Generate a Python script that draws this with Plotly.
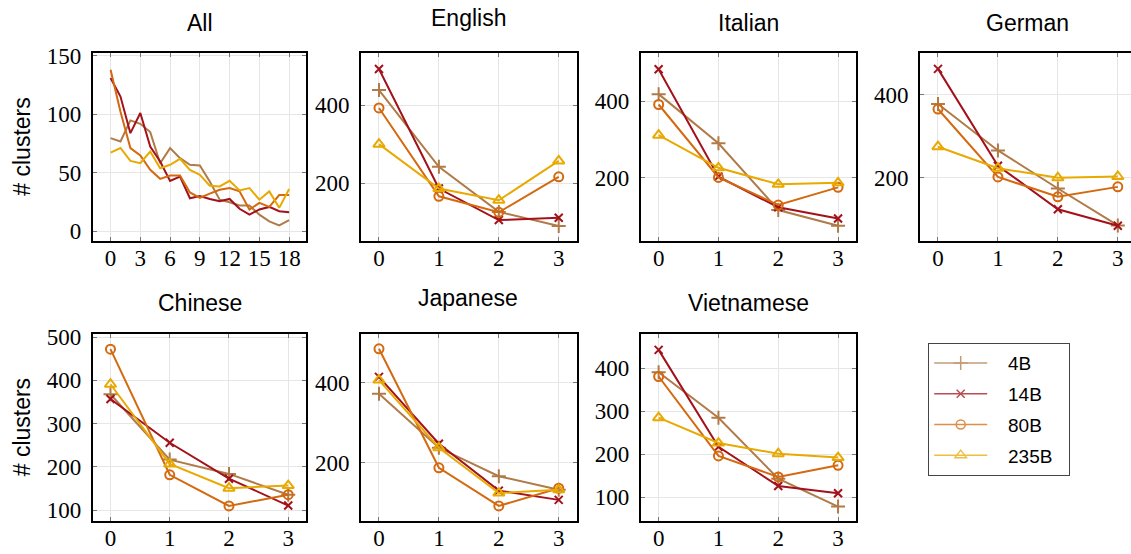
import plotly.graph_objects as go

W, H = 1131, 554

models = ["4B", "14B", "80B", "235B"]
colors = {"4B": "#B07B48", "14B": "#A3121B", "80B": "#D4690F", "235B": "#E8A900"}
symbols = {"4B": "cross-thin-open", "14B": "x-thin-open", "80B": "circle-open", "235B": "triangle-up-open"}
msize = {"4B": 10, "14B": 8, "80B": 9, "235B": 10}

steps_all = list(range(19))
steps_lang = [0, 1, 2, 3]

all_vals = {
    "4B":   [79.4, 76.6, 94.6, 91.7, 84.6, 58, 70.9, 62.3, 56.6, 56, 42.4, 26.8, 24.6, 21.8, 21.8, 14, 8.2, 4.8, 9.3],
    "14B":  [130.9, 115, 83.7, 100.9, 72.3, 59.4, 42.9, 46.6, 28, 30, 27.4, 25.4, 27.4, 19, 14, 18.4, 20.6, 16.9, 16.1],
    "80B":  [138, 102, 70.9, 64.6, 52.3, 44.6, 47.4, 47.4, 33, 28.4, 31.9, 35.3, 36.7, 33.9, 18.4, 24, 20.6, 30.8, 30.8],
    "235B": [67, 71, 60, 58, 68, 53.7, 56.6, 61.7, 52.3, 48, 38.7, 38.1, 42.9, 34.7, 36.7, 26.8, 33.9, 19.8, 35.9],
}
english = {"4B": [439, 242, 126, 90], "14B": [493, 186, 105, 111], "80B": [393, 166, 125, 216], "235B": [300, 186, 156, 257]}
italian = {"4B": [418, 290, 116, 75], "14B": [483, 203, 123, 94], "80B": [391, 201, 129, 175], "235B": [311, 226, 183, 187]}
german = {"4B": [378, 266, 174, 85], "14B": [463, 229, 124, 84], "80B": [366, 202, 154, 178], "235B": [275, 223, 200, 203]}
chinese = {"4B": [368, 217, 184, 136], "14B": [357, 256, 173, 111], "80B": [472, 182, 110, 136], "235B": [391, 207, 151, 157]}
japanese = {"4B": [372, 237, 166, 132], "14B": [414, 247, 130, 107], "80B": [484, 187, 92, 136], "235B": [406, 237, 124, 132]}
vietnamese = {"4B": [391, 285, 143, 78], "14B": [443, 217, 126, 109], "80B": [381, 196, 147, 174], "235B": [285, 226, 201, 192]}

panel_titles = ["All", "English", "Italian", "German", "Chinese", "Japanese", "Vietnamese"]
panel_data = [all_vals, english, italian, german, chinese, japanese, vietnamese]

# layout (pixel boxes)
cols_px = [(92.7, 306), (361, 576.7), (640.7, 856), (920, 1131)]
rows_px = [(52.7, 240.7), (334, 520.7)]
xranges = [[-1.8, 19.7], [-0.3, 3.3], [-0.3, 3.3], [-0.3, 3.22], [-0.3, 3.3], [-0.3, 3.3], [-0.3, 3.3]]
yranges = [[-8.3, 152.5], [52, 535], [36, 526], [48, 502], [76, 507], [55, 521], [45, 480]]
xdt = [3, 1, 1, 1, 1, 1, 1]
ydt = [50, 200, 200, 200, 100, 200, 100]
title_pos = [(200, 22.5), (468.3, 17.5), (748.3, 22.5), (1027.5, 22.5), (200, 302.5), (468.3, 297.5), (748.3, 302.5)]

fig = go.Figure()
layout = dict(
    width=W, height=H, margin=dict(l=0, r=0, t=0, b=0, autoexpand=False),
    paper_bgcolor="white", plot_bgcolor="white", showlegend=True,
)
annotations = []
tick_font = dict(family="Liberation Serif", size=23, color="black")

for i, (title, data) in enumerate(zip(panel_titles, panel_data)):
    r, c = (0, i) if i < 4 else (1, i - 4)
    xs = steps_all if i == 0 else steps_lang
    ax = "" if i == 0 else str(i + 1)
    for m in models:
        tr = dict(
            x=xs, y=data[m], xaxis="x" + ax, yaxis="y" + ax,
            line=dict(color=colors[m], width=2), showlegend=False, name=m,
        )
        if i == 0:
            tr["mode"] = "lines"
        else:
            tr["mode"] = "lines+markers"
            tr["marker"] = dict(symbol=symbols[m], size=msize[m], color=colors[m],
                                line=dict(color=colors[m], width=2))
        fig.add_trace(go.Scatter(**tr))
    x0, x1 = cols_px[c]
    y0, y1 = rows_px[r]
    common = dict(showline=True, linecolor="black", linewidth=1.6, mirror="ticks",
                  ticks="inside", ticklen=4, tickwidth=1, tickcolor="#777",
                  showgrid=True, gridcolor="#e6e6e6", gridwidth=1, zeroline=False,
                  tickfont=tick_font, automargin=False)
    layout["xaxis" + ax] = dict(domain=[x0 / W, x1 / W], range=xranges[i], dtick=xdt[i], tick0=0,
                                anchor="y" + ax, ticklabelstandoff=-4, **common)
    layout["yaxis" + ax] = dict(domain=[1 - y1 / H, 1 - y0 / H], range=yranges[i], dtick=ydt[i], tick0=0,
                                anchor="x" + ax, ticklabelstandoff=5, **common)
    if i == 3:
        layout["yaxis" + ax]["mirror"] = False
    tx, ty = title_pos[i]
    annotations.append(dict(text=title, x=tx / W, y=1 - ty / H, xref="paper", yref="paper",
                            xanchor="center", yanchor="middle", showarrow=False,
                            font=dict(family="Liberation Sans", size=23, color="black")))

for yc in [146.7, 427.3]:
    annotations.append(dict(text="# clusters", x=22 / W, y=1 - yc / H, xref="paper", yref="paper",
                            xanchor="center", yanchor="middle", textangle=-90, showarrow=False,
                            font=dict(family="Liberation Sans", size=23, color="black")))

# legend entries
for k, m in enumerate(models):
    fig.add_trace(go.Scatter(
        x=[None], y=[None], mode="lines+markers", name="\u00a0\u00a0\u00a0" + m + "\u00a0\u00a0",
        legendgroup=m, showlegend=True, opacity=0.75, line=dict(color=colors[m], width=1.5),
        marker=dict(symbol=symbols[m], size=msize[m], color=colors[m], line=dict(color=colors[m], width=1.5)),
    ))

layout["legend"] = dict(x=928 / W, y=1 - 343 / H, xanchor="left", yanchor="top",
                        bordercolor="#444", borderwidth=1.2, bgcolor="white",
                        font=dict(family="Liberation Sans", size=19, color="black"),
                        traceorder="grouped", tracegroupgap=3, itemwidth=53)
layout["annotations"] = annotations
fig.update_layout(**layout)
fig.write_html("out.html", config={"displayModeBar": False},
               post_script="document.body.style.margin='0';document.body.style.overflow='hidden';")
